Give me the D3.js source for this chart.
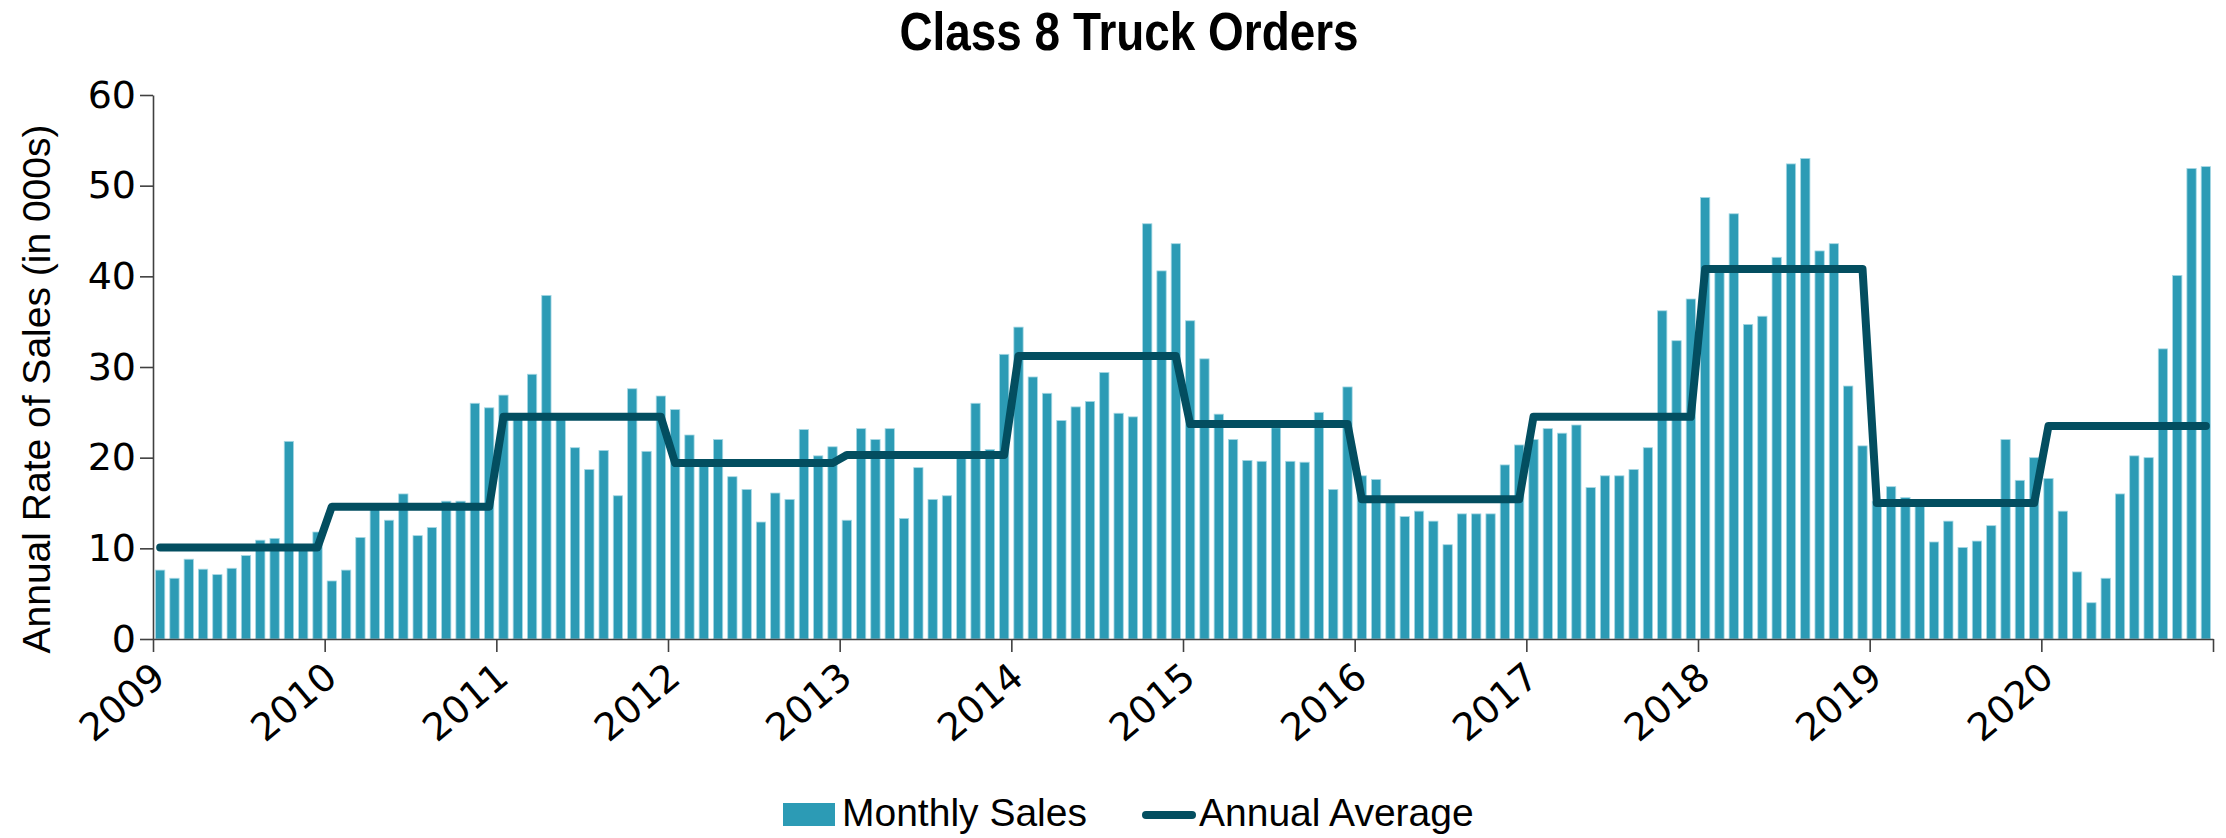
<!DOCTYPE html>
<html>
<head>
<meta charset="utf-8">
<script src="https://cdn.jsdelivr.net/npm/d3@7"></script>
<style>
  body { margin: 0; background: #fff; }
  svg { display: block; }
  .axis path, .axis line { stroke: #404040; stroke-width: 1.6; }
  .axis text { font-family: "DejaVu Sans", Verdana, sans-serif; font-size: 38px; fill: #000; }
</style>
</head>
<body>
<div id="chart"></div>
<script>
// values (thousands, annualised)
var years = [2009, 2010, 2011, 2012, 2013, 2014, 2015, 2016, 2017, 2018, 2019, 2020];

var sales2009 = [7.6, 6.7, 8.8, 7.7, 7.1, 7.8, 9.2, 10.9, 11.1, 21.8, 10.4, 11.8];
var sales2010 = [6.4, 7.6, 11.2, 14.3, 13.1, 16.0, 11.4, 12.3, 15.2, 15.2, 26.0, 25.5];
var sales2011 = [26.9, 24.3, 29.2, 37.9, 24.5, 21.1, 18.7, 20.8, 15.8, 27.6, 20.7, 26.8];
var sales2012 = [25.3, 22.5, 19.6, 22.0, 17.9, 16.5, 12.9, 16.1, 15.4, 23.1, 20.2, 21.2];
var sales2013 = [13.1, 23.2, 22.0, 23.2, 13.3, 18.9, 15.4, 15.8, 19.9, 26.0, 20.9, 31.4];
var sales2014 = [34.4, 28.9, 27.1, 24.1, 25.6, 26.2, 29.4, 24.9, 24.5, 45.8, 40.6, 43.6];
var sales2015 = [35.1, 30.9, 24.8, 22.0, 19.7, 19.6, 23.3, 19.6, 19.5, 25.0, 16.5, 27.8];
var sales2016 = [18.0, 17.6, 15.3, 13.5, 14.1, 13.0, 10.4, 13.8, 13.8, 13.8, 19.2, 21.4];
var sales2017 = [22.0, 23.2, 22.7, 23.6, 16.7, 18.0, 18.0, 18.7, 21.1, 36.2, 32.9, 37.5];
var sales2018 = [48.7, 40.6, 46.9, 34.7, 35.6, 42.1, 52.4, 53.0, 42.8, 43.6, 27.9, 21.3];
var sales2019 = [15.2, 16.8, 15.6, 15.1, 10.7, 13.0, 10.1, 10.8, 12.5, 22.0, 17.5, 20.0];
var sales2020 = [17.7, 14.1, 7.4, 4.0, 6.7, 16.0, 20.2, 20.0, 32.0, 40.1, 51.9, 52.1];

var annualAverage = [10.1, 14.6, 24.5, 19.4, 20.3, 31.2, 23.7, 15.4, 24.5, 40.8, 15.0, 23.5];

var yTicks = [0, 10, 20, 30, 40, 50, 60];

var monthlySales = [].concat(sales2009, sales2010, sales2011, sales2012, sales2013, sales2014,
  sales2015, sales2016, sales2017, sales2018, sales2019, sales2020);

var w = 2226, h = 838;
// note: "top" is taken by window.top, so use other names
var plotLeft = 153, plotRight = 2213, plotTop = 95, plotBottom = 639;

var svg = d3.select("#chart").append("svg")
  .attr("width", w)
  .attr("height", h);

var x = d3.scaleBand()
  .domain(d3.range(monthlySales.length))
  .range([plotLeft, plotRight])
  .paddingInner(0.35)
  .paddingOuter(0.175);

// year boundaries (in months) for the x axis ticks
var xm = d3.scaleLinear().domain([0, monthlySales.length]).range([plotLeft, plotRight]);

var y = d3.scaleLinear().domain([0, 60]).range([plotBottom, plotTop]);

// bars
svg.append("g").selectAll("rect")
  .data(monthlySales)
  .enter().append("rect")
  .attr("x", function(d, i) { return x(i); })
  .attr("y", function(d) { return y(d); })
  .attr("width", x.bandwidth())
  .attr("height", function(d) { return y(0) - y(d); })
  .attr("fill", "#2c9bb5")
  .attr("stroke", "#a6d8e4")
  .attr("stroke-width", 0.8);

// annual average line, one point per month
var avgLine = d3.line()
  .x(function(d, i) { return x(i) + x.bandwidth() / 2; })
  .y(function(d) { return y(d); });

svg.append("path")
  .datum(monthlySales.map(function(d, i) { return annualAverage[Math.floor(i / 12)]; }))
  .attr("d", avgLine)
  .attr("fill", "none")
  .attr("stroke", "#034e60")
  .attr("stroke-width", 8)
  .attr("stroke-linejoin", "round")
  .attr("stroke-linecap", "round");

// y axis
svg.append("g")
  .attr("class", "axis")
  .attr("transform", "translate(" + plotLeft + ",0)")
  .call(d3.axisLeft(y).tickValues(yTicks).tickSize(13).tickSizeOuter(0).tickPadding(4));

// x axis
var xTickVals = d3.range(0, monthlySales.length + 1, 12);
var xAxis = svg.append("g")
  .attr("class", "axis")
  .attr("transform", "translate(0," + plotBottom + ")")
  .call(d3.axisBottom(xm).tickValues(xTickVals).tickSize(13).tickSizeOuter(0)
    .tickFormat(function(d) { var k = d / 12; return k < years.length ? years[k] : ""; }));

xAxis.selectAll(".tick text")
  .attr("text-anchor", "end")
  .attr("dy", null)
  .attr("y", null)
  .attr("transform", "translate(14,42) rotate(-40)");

// y axis title
svg.append("text")
  .attr("transform", "translate(50,389) rotate(-90)")
  .attr("text-anchor", "middle")
  .style("font-family", "'Liberation Sans', Arial, sans-serif")
  .style("font-size", "39px")
  .text("Annual Rate of Sales (in 000s)");

// chart title: no narrow face installed, so squeeze a bold one
svg.append("text")
  .attr("transform", "translate(1129,50) scale(0.85,1)")
  .attr("text-anchor", "middle")
  .style("font-family", "'Liberation Sans', Arial, sans-serif")
  .style("font-weight", "bold")
  .style("font-size", "54px")
  .text("Class 8 Truck Orders");

// legend
var legend = svg.append("g")
  .style("font-family", "'Liberation Sans', Arial, sans-serif")
  .style("font-size", "39px");

legend.append("rect")
  .attr("x", 783).attr("y", 803)
  .attr("width", 52).attr("height", 23)
  .attr("fill", "#2c9bb5");

legend.append("text")
  .attr("x", 842).attr("y", 826)
  .text("Monthly Sales");

legend.append("line")
  .attr("x1", 1146).attr("x2", 1192)
  .attr("y1", 815).attr("y2", 815)
  .attr("stroke", "#034e60")
  .attr("stroke-width", 8)
  .attr("stroke-linecap", "round");

legend.append("text")
  .attr("x", 1199).attr("y", 826)
  .text("Annual Average");
</script>
</body>
</html>
